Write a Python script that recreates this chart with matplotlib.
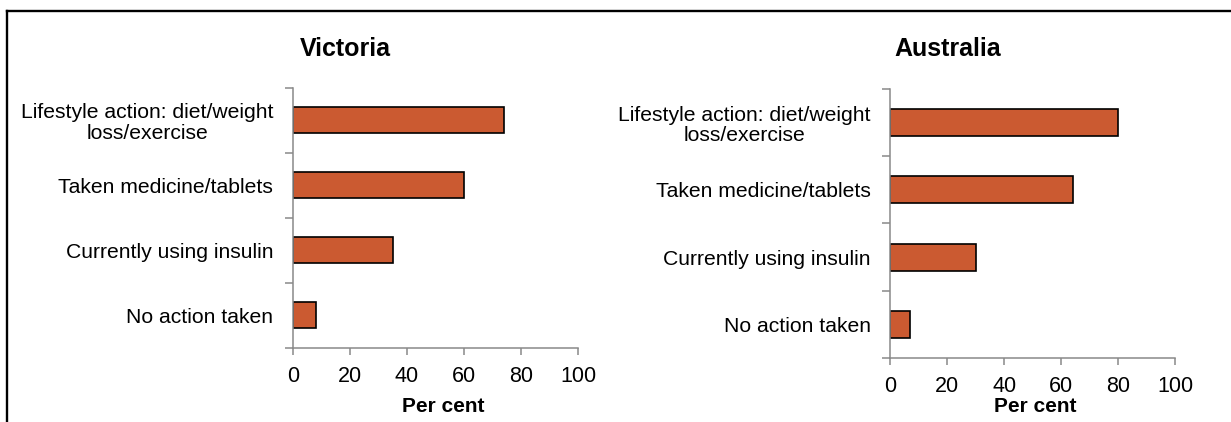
import matplotlib.pyplot as plt
from matplotlib.lines import Line2D

plt.rcParams["font.family"] = ["Liberation Sans", "DejaVu Sans"]

categories = [
    "Lifestyle action: diet/weight\nloss/exercise",
    "Taken medicine/tablets",
    "Currently using insulin",
    "No action taken",
]
victoria = [74, 60, 35, 8]
australia = [80, 64, 30, 7]

BAR_COLOR = "#CB5A31"
AXIS_COLOR = "#898989"
x_ticks = [0, 20, 40, 60, 80, 100]

fig = plt.figure(figsize=(12.31, 4.22), dpi=100)

# panel rects in figure fractions
panels = [
    ("Victoria", victoria, [0.2378, 0.1754, 0.2317, 0.6161], (0.186, 1.15), (0.526, -0.226)),
    ("Australia", australia, [0.7230, 0.1517, 0.2319, 0.6374], (0.201, 1.149), (0.510, -0.182)),
]

for title, values, rect, title_pos, label_pos in panels:
    ax = fig.add_axes(rect)
    pos = list(range(len(categories)))
    ax.barh(pos, values, height=0.4, color=BAR_COLOR, edgecolor="black", linewidth=1.2)
    ax.set_ylim(len(categories) - 0.5, -0.5)
    ax.set_xlim(0, 100)

    ax.set_xticks(x_ticks)
    ax.set_yticks(pos)
    ax.set_yticklabels(categories, fontsize=15.2, multialignment="center", linespacing=1.1)
    ax.set_yticks([p - 0.5 for p in range(len(categories) + 1)], minor=True)
    ax.tick_params(axis="y", which="major", length=0, pad=14)
    ax.tick_params(axis="y", which="minor", length=6, width=1.1, color=AXIS_COLOR, direction="out")
    ax.tick_params(axis="x", length=5, width=1.1, color=AXIS_COLOR, labelsize=15.5, pad=8)

    for side in ["top", "right"]:
        ax.spines[side].set_visible(False)
    for side in ["left", "bottom"]:
        ax.spines[side].set_color(AXIS_COLOR)
        ax.spines[side].set_linewidth(1.1)

    ax.set_xlabel("Per cent", fontsize=15, fontweight="bold")
    ax.xaxis.set_label_coords(*label_pos)
    ax.xaxis.label.set_va("center")

    ax.text(title_pos[0], title_pos[1], title, transform=ax.transAxes,
            ha="center", va="center", fontsize=18, fontweight="bold")

# outer frame: top and left edges only
fig.add_artist(Line2D([7 / 1231, 1230 / 1231], [1 - 11 / 422, 1 - 11 / 422],
                      transform=fig.transFigure, color="black", linewidth=1.7))
fig.add_artist(Line2D([7 / 1231, 7 / 1231], [1 - 11 / 422, 0],
                      transform=fig.transFigure, color="black", linewidth=1.7))

fig.savefig("out.png", dpi=100)
